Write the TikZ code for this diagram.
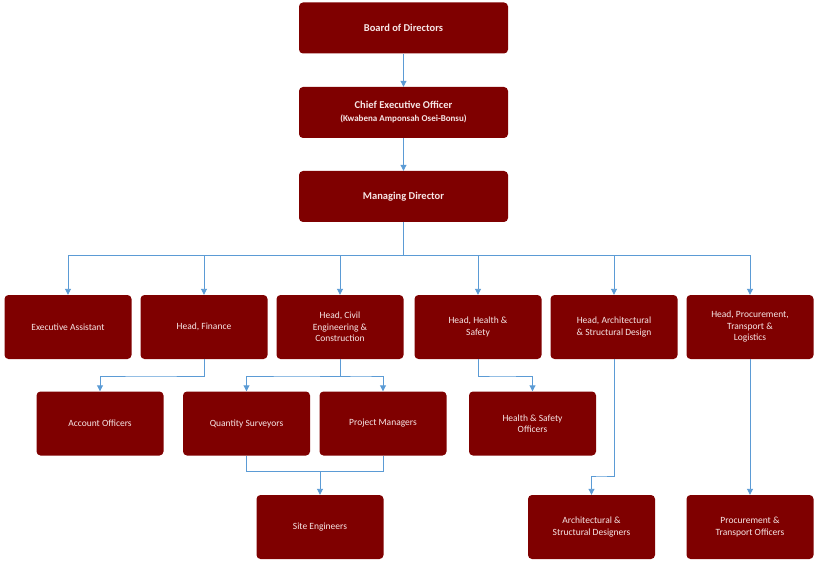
\documentclass[tikz,border=0pt]{standalone}
\usepackage{fontspec}
\setmainfont{Carlito}
\usetikzlibrary{arrows.meta}
\definecolor{boxred}{HTML}{7F0000}
\definecolor{boxtxt}{HTML}{F6E6E6}
\definecolor{conn}{HTML}{5B9BD5}
\tikzset{
  box/.style={draw=none,fill=boxred,rounded corners=4pt,text=boxtxt,align=center,font=\fontsize{9.5}{11.5}\selectfont,minimum width=127pt,minimum height=64pt,inner sep=1pt},
  topbox/.style={box,minimum width=209pt,minimum height=51pt,font=\bfseries\fontsize{10.5}{13}\selectfont},
  link/.style={draw=conn,line width=0.9pt,-{Triangle[length=6pt,width=6pt]}},
  plain/.style={draw=conn,line width=0.9pt}
}
\begin{document}
\begin{tikzpicture}[x=1pt,y=-1pt]
\useasboundingbox (0,0) rectangle (820,567);
\node[topbox] (bod) at (403.5,28) {Board of Directors};
\node[topbox] (ceo) at (403.5,112.5) {Chief Executive Officer\\{\fontsize{9}{12}\selectfont (Kwabena Amponsah Osei-Bonsu)}};
\node[topbox] (md) at (403.5,196.5) {Managing Director};
\node[box] (ea) at (68,327) {Executive Assistant};
\node[box] (fin) at (204,327) {Head, Finance};
\node[box] (civ) at (340,327) {Head, Civil\\Engineering \&\\Construction};
\node[box] (hs) at (478,327) {Head, Health \&\\Safety};
\node[box] (arch) at (614,327) {Head, Architectural\\\& Structural Design};
\node[box] (proc) at (750,327) {Head, Procurement,\\Transport \&\\Logistics};
\node[box] (ao) at (100,423.5) {Account Officers};
\node[box] (qs) at (246.5,423.5) {Quantity Surveyors};
\node[box] (pm) at (383,423.5) {Project Managers};
\node[box] (hso) at (532.5,423.5) {Health \& Safety\\Officers};
\node[box] (se) at (320,527) {Site Engineers};
\node[box] (asd) at (591.5,527) {Architectural \&\\Structural Designers};
\node[box] (pto) at (750,527) {Procurement \&\\Transport Officers};
\coordinate (bus) at (403.5,255);
\draw[link] (bod) -- (ceo);
\draw[link] (ceo) -- (md);
\draw[plain] (md) -- (bus);
\foreach \n in {ea,fin,civ,hs,arch,proc}{\draw[link] (bus) -| (\n.north);}
\draw[link] (fin.south) |- (150,376) -| (ao.north);
\draw[link] (civ.south) |- (300,376) -| (qs.north);
\draw[link] (civ.south) |- (360,376) -| (pm.north);
\draw[link] (hs.south) |- (500,376) -| (hso.north);
\draw[plain] (qs.south) |- (320,471);
\draw[plain] (pm.south) |- (320,471);
\coordinate (sej) at (320,471);
\draw[link] (sej) -- (se.north);
\draw[link] (arch.south) |- (600,476) -| (asd.north);
\draw[link] (proc) -- (pto);
\end{tikzpicture}
\end{document}
